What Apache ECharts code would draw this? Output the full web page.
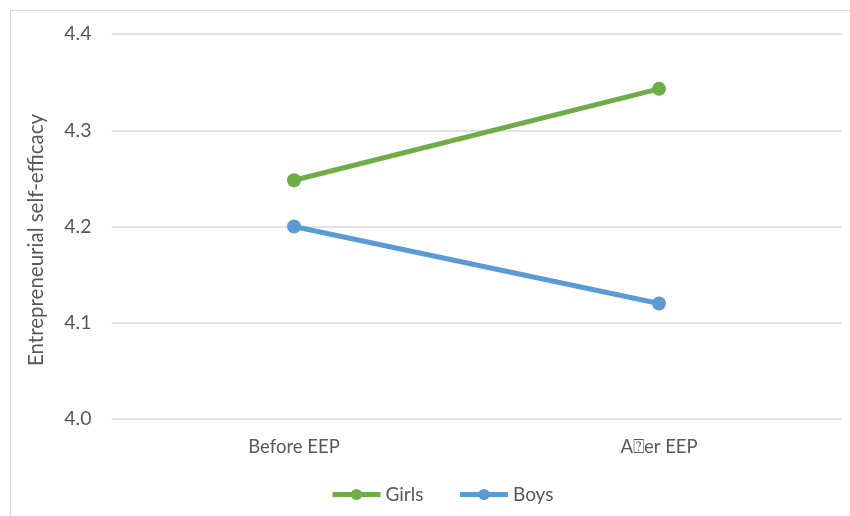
<!DOCTYPE html>
<html>
<head>
<meta charset="utf-8">
<script src="https://cdn.jsdelivr.net/npm/echarts@6/dist/echarts.min.js"></script>
<style>
  html, body { margin: 0; padding: 0; background: #fff; }
  #frame { position: absolute; left: 10px; top: 10px; width: 845px; height: 510px; border: 1px solid #d9d9d9; box-sizing: border-box; }
  #chart { position: absolute; left: 0; top: 0; width: 850px; height: 516px; }
</style>
</head>
<body>
<div id="frame"></div>
<div id="chart"></div>
<script>
// Mean entrepreneurial self-efficacy before and after the EEP, by gender
const categories = ['Before EEP', 'A\u2370er EEP'];
const girls = [4.248, 4.343];
const boys = [4.200, 4.120];
const yTicks = [4.0, 4.1, 4.2, 4.3, 4.4];

const font = 'Lato, "Open Sans", sans-serif';
const chart = echarts.init(document.getElementById('chart'), null, { renderer: 'canvas' });

chart.setOption({
  animation: false,
  backgroundColor: 'transparent',
  grid: { left: 111.5, right: 8.5, top: 34, bottom: 97 },
  legend: {
    bottom: 7,
    left: 325,
    itemWidth: 48,
    itemHeight: 14,
    itemGap: 34,
    lineStyle: { width: 5 },
    textStyle: { fontFamily: font, fontSize: 19, color: '#595959' },
    data: ['Girls', 'Boys']
  },
  xAxis: {
    type: 'category',
    data: categories,
    boundaryGap: true,
    axisLine: { show: false },
    axisTick: { show: false },
    axisLabel: { fontFamily: font, fontSize: 18.5, color: '#595959', margin: 19 }
  },
  yAxis: {
    type: 'value',
    min: yTicks[0],
    max: yTicks[yTicks.length - 1],
    interval: 0.1,
    axisLine: { show: false },
    axisTick: { show: false },
    axisLabel: {
      fontFamily: font, fontSize: 19.5, color: '#595959', margin: 20,
      formatter: v => v.toFixed(1)
    },
    splitLine: { lineStyle: { color: '#d9d9d9', width: 1.5 } }
  },
  graphic: [{
    type: 'text',
    x: 36, y: 240,
    rotation: Math.PI / 2,
    style: {
      text: 'Entrepreneurial self-efficacy',
      font: '20.5px ' + font,
      fill: '#595959',
      align: 'center',
      verticalAlign: 'middle'
    }
  }],
  series: [
    {
      name: 'Girls', type: 'line', data: girls,
      symbol: 'circle', symbolSize: 14,
      lineStyle: { color: '#70AD47', width: 5 },
      itemStyle: { color: '#70AD47' }
    },
    {
      name: 'Boys', type: 'line', data: boys,
      symbol: 'circle', symbolSize: 14,
      lineStyle: { color: '#5B9BD5', width: 5 },
      itemStyle: { color: '#5B9BD5' }
    }
  ]
});
</script>
</body>
</html>
